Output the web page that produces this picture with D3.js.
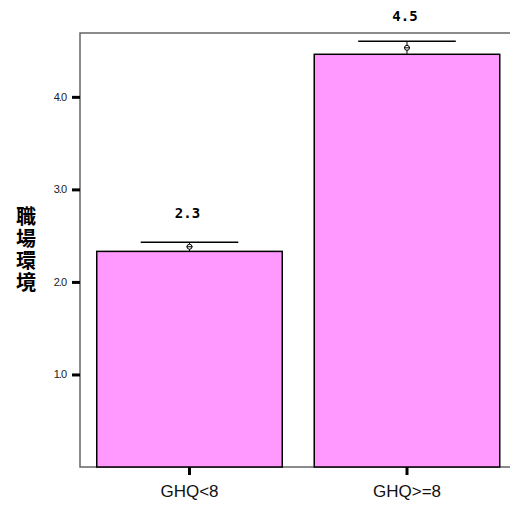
<!DOCTYPE html>
<html>
<head>
<meta charset="utf-8">
<script src="https://cdn.jsdelivr.net/npm/d3@7"></script>
<style>
  body { margin: 0; background: #fff; }
  svg { display: block; }
</style>
</head>
<body>
<svg width="510" height="507"></svg>
<script>
// data
var groups = ["GHQ<8", "GHQ>=8"];
var means = [2.33, 4.46];
var errors = [0.10, 0.14];
var yTicks = [1, 2, 3, 4];
var yTitle = "職場環境";

var svg = d3.select("svg"),
    plotLeft = 80, plotTop = 33, plotBottom = 467, plotRight = 516.5;

var x = d3.scaleBand()
    .domain(groups)
    .range([plotLeft, plotRight])
    .paddingInner(0.147)
    .paddingOuter(0.077);

var y = d3.scaleLinear()
    .domain([0, 4.69])
    .range([plotBottom, plotTop]);

var data = groups.map(function(g, i) {
    return {group: g, mean: means[i], err: errors[i]};
});

function cx(d) { return x(d.group) + x.bandwidth() / 2; }

// frame
svg.append("path")
    .attr("d", "M" + (plotRight + 5) + "," + plotTop + "H" + plotLeft + "V" + plotBottom + "H" + (plotRight + 5))
    .attr("fill", "none")
    .attr("stroke", "#666")
    .attr("stroke-width", 1.5);

// bars
svg.selectAll(".bar")
    .data(data)
    .enter().append("rect")
    .attr("class", "bar")
    .attr("x", function(d) { return x(d.group); })
    .attr("y", function(d) { return y(d.mean); })
    .attr("width", x.bandwidth())
    .attr("height", function(d) { return plotBottom - y(d.mean); })
    .attr("fill", "#ff99ff")
    .attr("stroke", "#000")
    .attr("stroke-width", 1.5);

// error bars
var eb = svg.selectAll(".eb")
    .data(data)
    .enter().append("g")
    .attr("class", "eb");

var capHalf = x.bandwidth() * 0.263;

eb.append("line")
    .attr("x1", cx)
    .attr("x2", cx)
    .attr("y1", function(d) { return y(d.mean); })
    .attr("y2", function(d) { return y(d.mean + d.err); })
    .attr("stroke", "#000");

eb.append("line")
    .attr("x1", function(d) { return cx(d) - capHalf; })
    .attr("x2", function(d) { return cx(d) + capHalf; })
    .attr("y1", function(d) { return y(d.mean + d.err); })
    .attr("y2", function(d) { return y(d.mean + d.err); })
    .attr("stroke", "#000")
    .attr("stroke-width", 1.5);

eb.append("circle")
    .attr("cx", cx)
    .attr("cy", function(d) { return y(d.mean + d.err / 2); })
    .attr("r", 2.5)
    .attr("fill", "#fff")
    .attr("stroke", "#000");

eb.append("line")
    .attr("x1", function(d) { return cx(d) - 3; })
    .attr("x2", function(d) { return cx(d) + 3; })
    .attr("y1", function(d) { return y(d.mean + d.err / 2); })
    .attr("y2", function(d) { return y(d.mean + d.err / 2); })
    .attr("stroke", "#000");

// value labels
svg.selectAll(".val")
    .data(data)
    .enter().append("text")
    .attr("class", "val")
    .attr("x", function(d) { return cx(d) - 2; })
    .attr("y", function(d) { return y(d.mean) - 33; })
    .attr("text-anchor", "middle")
    .style("font-family", "'DejaVu Sans Mono', monospace")
    .style("font-weight", "bold")
    .style("font-size", "14px")
    .text(function(d) { return d3.format(".1f")(d.mean); });

// y axis
var yAxis = svg.append("g")
    .attr("transform", "translate(" + plotLeft + ",0)")
    .call(d3.axisLeft(y).tickValues(yTicks).tickFormat(d3.format(".1f")).tickSize(8).tickPadding(6));
yAxis.select(".domain").remove();
yAxis.selectAll(".tick line").attr("stroke", "#000").attr("stroke-width", 3);
yAxis.selectAll(".tick text")
    .attr("fill", "#222")
    .style("font-family", "'Liberation Sans', Arial, sans-serif")
    .style("font-size", "11px")
    .style("letter-spacing", "-1px");

// x axis
var xAxis = svg.append("g")
    .attr("transform", "translate(0," + plotBottom + ")")
    .call(d3.axisBottom(x).tickSize(8).tickPadding(10));
xAxis.select(".domain").remove();
xAxis.selectAll(".tick line").attr("stroke", "#000").attr("stroke-width", 3);
xAxis.selectAll(".tick text")
    .attr("fill", "#111")
    .style("font-family", "'Liberation Sans', Arial, sans-serif")
    .style("font-size", "17px");

// y title, written top to bottom
svg.append("text")
    .attr("x", 26)
    .attr("y", 250)
    .attr("text-anchor", "middle")
    .style("writing-mode", "vertical-rl")
    .style("font-family", "'Noto Sans CJK JP', sans-serif")
    .style("font-weight", "bold")
    .style("font-size", "20px")
    .style("letter-spacing", "2px")
    .text(yTitle);
</script>
</body>
</html>
